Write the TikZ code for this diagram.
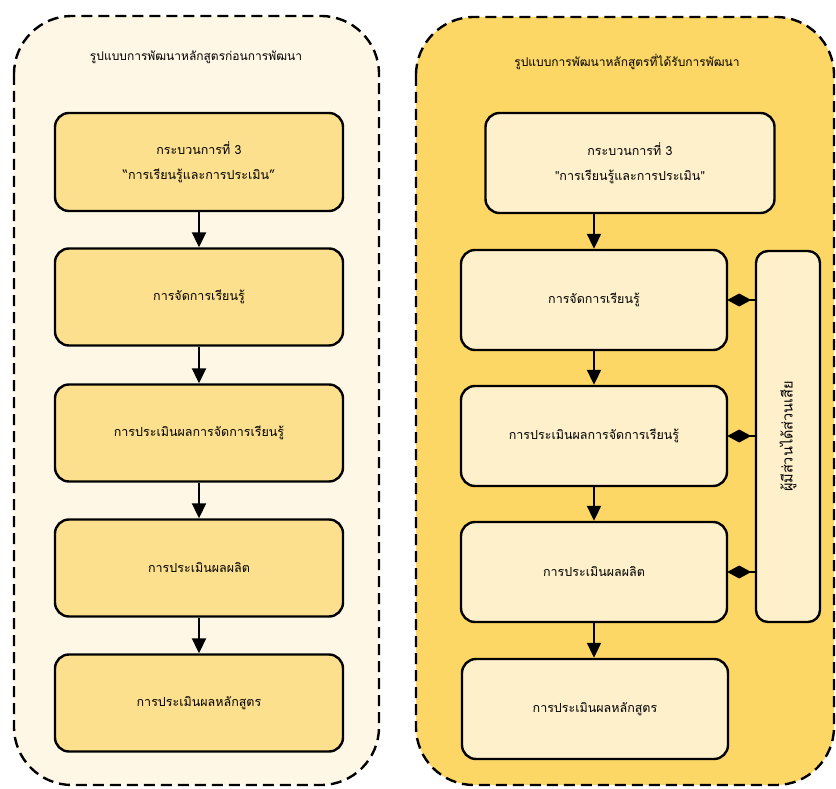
\documentclass[tikz,border=0pt]{standalone}
\usepackage{fontspec}
\newfontfamily\thaifont[Script=Thai]{Loma}
\usetikzlibrary{arrows.meta}
\definecolor{outerL}{HTML}{FEF7E6}
\definecolor{innerL}{HTML}{FCE08E}
\definecolor{outerR}{HTML}{FDD765}
\definecolor{innerR}{HTML}{FEF0CB}
\tikzset{
  outerbox/.style={draw=black, line width=2.4pt, dash pattern=on 11pt off 6pt, rounded corners=58pt},
  stepbox/.style={draw=black, line width=2.4pt, rounded corners=14pt, align=center, font=\thaifont\fontsize{12.5}{25}\selectfont, inner sep=0pt},
  titletext/.style={font=\thaifont\fontsize{12}{14}\selectfont},
  sidetext/.style={font=\thaifont\fontsize{14.5}{16}\selectfont},
  flow/.style={line width=2pt, -{Triangle[length=15pt,width=14pt]}},
  link/.style={line width=2pt, -{Diamond[length=24pt,width=13pt]}, shorten >=-1pt}
}
\begin{document}
\begin{tikzpicture}[x=1pt,y=-1pt]
\useasboundingbox (0,0) rectangle (836,789);
% outer containers
\path[outerbox, fill=outerL] (14,16) rectangle (379,785);
\path[outerbox, fill=outerR] (416,17) rectangle (834,785);
% titles
\node[titletext] (tL) at (196,57) {รูปแบบการพัฒนาหลักสูตรก่อนการพัฒนา};
\node[titletext] (tR) at (627,62) {รูปแบบการพัฒนาหลักสูตรที่ได้รับการพัฒนา};
% left column
\node[stepbox, fill=innerL, minimum width=288pt, minimum height=98pt] (L1) at (199,162) {กระบวนการที่ 3\\“การเรียนรู้และการประเมิน”};
\node[stepbox, fill=innerL, minimum width=288pt, minimum height=97pt] (L2) at (199,297) {การจัดการเรียนรู้};
\node[stepbox, fill=innerL, minimum width=288pt, minimum height=97pt] (L3) at (199,433) {การประเมินผลการจัดการเรียนรู้};
\node[stepbox, fill=innerL, minimum width=288pt, minimum height=97pt] (L4) at (199,568) {การประเมินผลผลิต};
\node[stepbox, fill=innerL, minimum width=288pt, minimum height=97pt] (L5) at (199,703) {การประเมินผลหลักสูตร};
\draw[flow] (L1) -- (L2);
\draw[flow] (L2) -- (L3);
\draw[flow] (L3) -- (L4);
\draw[flow] (L4) -- (L5);
% right column
\node[stepbox, fill=innerR, minimum width=289pt, minimum height=100pt] (R1) at (630,163) {กระบวนการที่ 3\\"การเรียนรู้และการประเมิน"};
\node[stepbox, fill=innerR, minimum width=266pt, minimum height=100pt] (R2) at (594,300) {การจัดการเรียนรู้};
\node[stepbox, fill=innerR, minimum width=266pt, minimum height=100pt] (R3) at (594,436) {การประเมินผลการจัดการเรียนรู้};
\node[stepbox, fill=innerR, minimum width=266pt, minimum height=100pt] (R4) at (594,572) {การประเมินผลผลิต};
\node[stepbox, fill=innerR, minimum width=266pt, minimum height=100pt] (R5) at (595,709) {การประเมินผลหลักสูตร};
\node[stepbox, fill=innerR, minimum width=64pt, minimum height=371pt, rounded corners=12pt] (S) at (788,436.5) {};
\node[sidetext, rotate=90] (St) at (S.center) {ผู้มีส่วนได้ส่วนเสีย};
\draw[flow] (R1.south -| R2.north) -- (R2.north);
\draw[flow] (R2) -- (R3);
\draw[flow] (R3) -- (R4);
\draw[flow] (R4.south) -- (R4.south |- R5.north);
\draw[link] (S.west |- R2.east) -- (R2.east);
\draw[link] (S.west |- R3.east) -- (R3.east);
\draw[link] (S.west |- R4.east) -- (R4.east);
\end{tikzpicture}
\end{document}
